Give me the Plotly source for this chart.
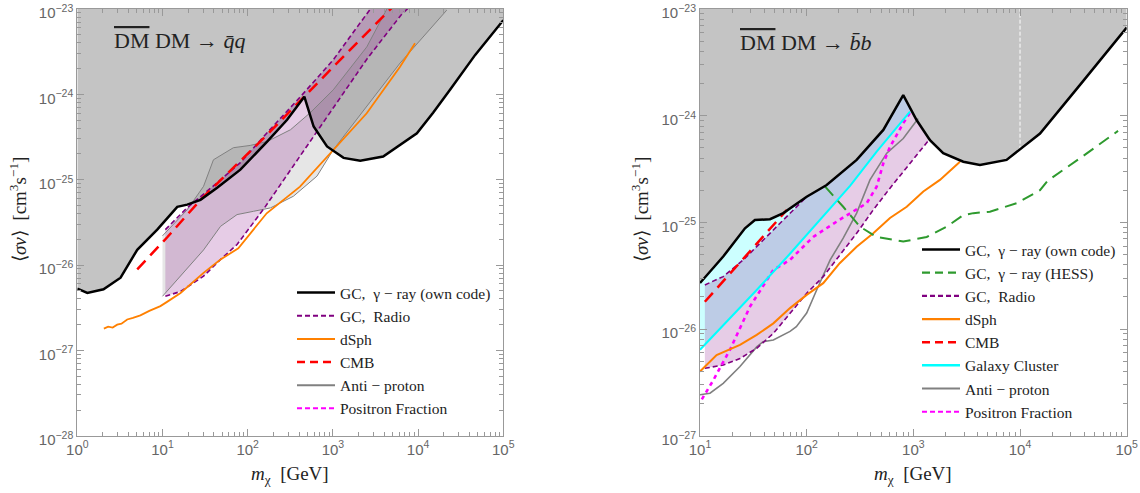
import numpy as np
import plotly.graph_objects as go

# ---------------- Left panel: DM DM -> q qbar ----------------
gcL_m = [1, 1.31, 2.03, 3.22, 5.05, 8.67, 12.4, 14.9, 19.5, 27.9, 43.8, 82, 169, 290, 462,
         594, 853, 1334, 2094, 3890, 9680, 15000, 23700, 46800, 1e5]
gcL_sv = [5.3e-27, 4.7e-27, 5.2e-27, 7.1e-27, 1.51e-26, 2.6e-26, 3.9e-26, 4.8e-26, 5.1e-26,
          5.8e-26, 8.05e-26, 1.31e-25, 2.8e-25, 5.03e-25, 9.4e-25, 4.2e-25, 2.45e-25, 1.8e-25,
          1.67e-25, 1.87e-25, 3.5e-25, 6.1e-25, 1.13e-24, 2.9e-24, 7.4e-24]

apL_up_m = [10, 13.4, 19.5, 30.3, 39.6, 68, 107, 169, 318, 543, 1010, 2500, 4300]
apL_up_sv = [2.2e-26, 2.98e-26, 4.45e-26, 8.35e-26, 1.71e-25, 2.37e-25, 2.52e-25, 2.8e-25,
             3.85e-25, 6.1e-25, 1.13e-24, 3.6e-24, 1.0e-23]
apL_lo_m = [10, 16.3, 30.3, 48, 75, 117, 185, 344, 650, 1010, 2500, 6150, 21700]
apL_lo_sv = [4.3e-27, 7.4e-27, 1.5e-26, 2.84e-26, 3.9e-26, 4.26e-26, 4.67e-26, 6.4e-26,
             1.1e-25, 2.24e-25, 7.2e-25, 2.33e-24, 9.7e-24]

radL_up_m = [10.8, 19.5, 43.8, 82, 169, 417, 1010, 2750]
radL_up_sv = [2.6e-26, 4.7e-26, 9.2e-26, 1.58e-25, 3.55e-25, 9.4e-25, 2.54e-24, 1.0e-23]
radL_lo_m = [10.8, 16.3, 30.3, 48, 75, 117, 158, 398, 1000, 2512, 6310, 9000]
radL_lo_sv = [4.3e-27, 4.9e-27, 7.4e-27, 1.16e-26, 1.74e-26, 3.1e-26, 4.7e-26, 1.8e-25,
              6.8e-25, 2.6e-24, 8.5e-24, 1.2e-23]

dsL_m = [2.05, 2.3, 2.6, 2.94, 3.3, 3.85, 4.5, 5.5, 7, 9.45, 11.3, 16.3, 30.3, 48, 77.6, 167,
         411, 1010, 2494, 6140, 9200]
dsL_sv = [1.8e-27, 1.9e-27, 1.85e-27, 2.0e-27, 2.05e-27, 2.3e-27, 2.4e-27, 2.57e-27, 2.9e-27,
          3.3e-27, 3.7e-27, 4.7e-27, 8.1e-27, 1.16e-26, 1.57e-26, 4.04e-26, 8.3e-26, 2.23e-25,
          6.0e-25, 2.1e-24, 3.96e-24]

cmbL_m = [5.05, 11.3, 27.9, 169, 1010, 5000]
cmbL_sv = [8.9e-27, 2.1e-26, 5.8e-26, 3.36e-25, 2.1e-24, 1.05e-23]

# ---------------- Right panel: DM DM -> b bbar ----------------
gcR_m = [10, 16.5, 26.4, 32.7, 45.3, 60.4, 100, 154, 294, 523, 804, 1072, 1432, 1905, 2940,
         4210, 7480, 10000, 15400, 38000, 1e5]
gcR_sv = [2.7e-26, 4.78e-26, 8.8e-26, 1.05e-25, 1.07e-25, 1.22e-25, 1.74e-25, 2.24e-25,
          3.85e-25, 7.35e-25, 1.56e-24, 9.1e-25, 5.9e-25, 4.45e-25, 3.7e-25, 3.45e-25,
          3.85e-25, 4.8e-25, 6.8e-25, 2.04e-24, 6.7e-24]

hess_m = [149, 220, 316, 453, 804, 1334, 2050, 2940, 3650, 5220, 9290, 15400, 18100, 38000, 83000]
hess_sv = [2.16e-25, 1.4e-25, 9.1e-26, 7.3e-26, 6.6e-26, 7.3e-26, 9.1e-26, 1.17e-25, 1.22e-25,
           1.26e-25, 1.51e-25, 2.0e-25, 2.45e-25, 4.1e-25, 7.2e-25]

radR_up_m = [11.1, 16.5, 25.5, 100]
radR_up_sv = [2.59e-26, 3.1e-26, 4.45e-26, 1.74e-25]
radR_lo_m = [11.1, 16.5, 23.7, 34, 48.7, 69.8, 100, 143, 204, 294, 421, 604, 1432]
radR_lo_sv = [4.28e-27, 4.6e-27, 5.3e-27, 6.6e-27, 9.1e-27, 1.41e-26, 2.16e-26, 3.1e-26,
              4.94e-26, 7.9e-26, 1.31e-25, 2.09e-25, 6.1e-25]

dsR_m = [10, 14.3, 23.7, 34, 48.7, 69.8, 100, 143, 204, 294, 421, 604, 867, 1240, 1775, 2735]
dsR_sv = [4.0e-27, 5.7e-27, 7.1e-27, 8.8e-27, 1.13e-26, 1.57e-26, 2.09e-26, 2.69e-26, 4.14e-26,
          5.9e-26, 7.9e-26, 1.1e-25, 1.4e-25, 1.95e-25, 2.5e-25, 3.7e-25]

cmbR_m = [11.1, 64.9]
cmbR_sv = [1.8e-26, 1.3e-25]

gclus_m = [10, 34, 70, 143, 255, 453, 930]
gclus_sv = [6.4e-27, 2.32e-26, 5.1e-26, 1.15e-25, 2.2e-25, 4.6e-25, 1.09e-24]

apR_m = [10, 12.4, 16.5, 23.7, 34, 39, 48.7, 69.8, 80, 100, 124, 166, 220, 294, 392, 563, 804, 1110]
apR_sv = [2.42e-27, 2.5e-27, 3.1e-27, 4.45e-27, 6.8e-27, 7.6e-27, 7.9e-27, 9.5e-27, 1.05e-26,
          1.41e-26, 2.32e-26, 4.45e-26, 7.1e-26, 1.22e-25, 2.5e-25, 4.45e-25, 6.1e-25, 9.4e-25]

pos_m = [10.4, 13.3, 19.1, 29.4, 48.7, 69.8, 115, 204, 365, 453, 523, 604, 804, 966]
pos_sv = [2.19e-27, 3.3e-27, 6.4e-27, 1.62e-26, 3.58e-26, 4.45e-26, 7.3e-26, 1.06e-25,
          1.51e-25, 2.16e-25, 3.58e-25, 5.1e-25, 8.5e-25, 1.13e-24]

# white dashed artefact at 10 TeV (right panel)
wl_m = [1e4, 1e4]
wl_sv = [4.8e-25, 1e-23]

# axis ticks
xL_ticks = [1, 10, 100, 1e3, 1e4, 1e5]
xL_text = ["10<sup>0</sup>", "10<sup>1</sup>", "10<sup>2</sup>", "10<sup>3</sup>", "10<sup>4</sup>", "10<sup>5</sup>"]
yL_ticks = [1e-28, 1e-27, 1e-26, 1e-25, 1e-24, 1e-23]
yL_text = ["10<sup>−28</sup>", "10<sup>−27</sup>", "10<sup>−26</sup>", "10<sup>−25</sup>", "10<sup>−24</sup>", "10<sup>−23</sup>"]
xR_ticks = [10, 100, 1e3, 1e4, 1e5]
xR_text = ["10<sup>1</sup>", "10<sup>2</sup>", "10<sup>3</sup>", "10<sup>4</sup>", "10<sup>5</sup>"]
yR_ticks = [1e-27, 1e-26, 1e-25, 1e-24, 1e-23]
yR_text = ["10<sup>−27</sup>", "10<sup>−26</sup>", "10<sup>−25</sup>", "10<sup>−24</sup>", "10<sup>−23</sup>"]

BLACK = "#000000"; PURPLE = "#800080"; ORANGE = "#ff8000"; RED = "#ff0000"
GRAY = "#808080"; MAGENTA = "#ff00ff"; CYAN = "#00ffff"; GREEN = "#2e9a2e"
FILLGRAY = "#c4c4c4"

fig = go.Figure()


def poly(xu, yu, xl, yl):
    return list(xu) + list(xl)[::-1], list(yu) + list(yl)[::-1]


def add_fill(x, y, color, xa, ya):
    fig.add_trace(go.Scatter(x=x, y=y, fill="toself", fillcolor=color, mode="lines",
                             line=dict(width=0, color=color), hoverinfo="skip",
                             showlegend=False, xaxis=xa, yaxis=ya))


def add_line(x, y, color, width, dash, xa, ya):
    fig.add_trace(go.Scatter(x=x, y=y, mode="lines", line=dict(color=color, width=width, dash=dash),
                             showlegend=False, hoverinfo="skip", xaxis=xa, yaxis=ya))


def add_leg(name, color, width, dash, legend):
    fig.add_trace(go.Scatter(x=[None], y=[None], mode="lines", name=name,
                             line=dict(color=color, width=width, dash=dash),
                             legend=legend, xaxis="x", yaxis="y"))


TOP = 1e-21

# ---- left panel ----
add_fill([gcL_m[0]] + gcL_m + [gcL_m[-1]], [TOP] + gcL_sv + [TOP], FILLGRAY, "x", "y")
px, py = poly(apL_up_m + [apL_up_m[-1] * 1.5], apL_up_sv + [TOP], apL_lo_m + [apL_lo_m[-1] * 1.5], apL_lo_sv + [TOP])
add_fill(px, py, "rgba(128,128,128,0.2)", "x", "y")
px, py = poly(radL_up_m + [radL_up_m[-1] * 1.5], radL_up_sv + [TOP], radL_lo_m + [radL_lo_m[-1] * 1.5], radL_lo_sv + [TOP])
add_fill(px, py, "rgba(128,0,128,0.2)", "x", "y")
add_line(apL_up_m, apL_up_sv, GRAY, 1, "solid", "x", "y")
add_line(apL_lo_m, apL_lo_sv, GRAY, 1, "solid", "x", "y")
add_line(radL_up_m, radL_up_sv, PURPLE, 1.6, "5px,3px", "x", "y")
add_line(radL_lo_m, radL_lo_sv, PURPLE, 1.6, "5px,3px", "x", "y")
add_line(dsL_m, dsL_sv, ORANGE, 1.8, "solid", "x", "y")
add_line(cmbL_m, cmbL_sv, RED, 2.5, "12px,7px", "x", "y")
add_line(gcL_m, gcL_sv, BLACK, 2.5, "solid", "x", "y")

# ---- right panel ----
lm = np.log10(gcR_m); ls = np.log10(gcR_sv)
end_m = gclus_m[-1]
bk_end = 10 ** np.interp(np.log10(end_m), lm, ls)
bk_x = [m for m in gcR_m if m < end_m] + [end_m]
bk_y = [s for m, s in zip(gcR_m, gcR_sv) if m < end_m] + [bk_end]
px, py = poly(gclus_m, gclus_sv, bk_x, bk_y)
add_fill(px, py, "rgba(0,255,255,0.2)", "x2", "y2")
lo_end = radR_lo_m[-1]
up_x = radR_up_m + [m for m in gcR_m if radR_up_m[-1] < m < lo_end]
up_y = radR_up_sv + [s for m, s in zip(gcR_m, gcR_sv) if radR_up_m[-1] < m < lo_end]
px, py = poly(up_x, up_y, radR_lo_m, radR_lo_sv)
add_fill(px, py, "rgba(128,0,128,0.2)", "x2", "y2")
add_fill([gcR_m[0]] + gcR_m + [gcR_m[-1]], [TOP] + gcR_sv + [TOP], FILLGRAY, "x2", "y2")
add_line(wl_m, wl_sv, "#ffffff", 1, "4px,2px", "x2", "y2")
add_line(apR_m, apR_sv, GRAY, 1.6, "solid", "x2", "y2")
add_line(radR_up_m, radR_up_sv, PURPLE, 1.6, "5px,3px", "x2", "y2")
add_line(radR_lo_m, radR_lo_sv, PURPLE, 1.6, "5px,3px", "x2", "y2")
add_line(pos_m, pos_sv, MAGENTA, 2.6, "4px,4px", "x2", "y2")
add_line(gclus_m, gclus_sv, CYAN, 2, "solid", "x2", "y2")
add_line(dsR_m, dsR_sv, ORANGE, 2, "solid", "x2", "y2")
add_line(cmbR_m, cmbR_sv, RED, 2.5, "12px,7px", "x2", "y2")
add_line(hess_m, hess_sv, GREEN, 2, "12px,7px", "x2", "y2")
add_line(gcR_m, gcR_sv, BLACK, 2.5, "solid", "x2", "y2")

# ---- legends ----
add_leg("GC,  γ − ray (own code)", BLACK, 2.5, "solid", "legend")
add_leg("GC,  Radio", PURPLE, 2.2, "5px,3px", "legend")
add_leg("dSph", ORANGE, 2, "solid", "legend")
add_leg("CMB", RED, 2.5, "8px,5px", "legend")
add_leg("Anti − proton", GRAY, 2, "solid", "legend")
add_leg("Positron Fraction", MAGENTA, 2, "5px,3px", "legend")

add_leg("GC,  γ − ray (own code)", BLACK, 2.5, "solid", "legend2")
add_leg("GC,  γ − ray (HESS)", GREEN, 2.2, "8px,5px", "legend2")
add_leg("GC,  Radio", PURPLE, 2.2, "5px,3px", "legend2")
add_leg("dSph", ORANGE, 2.2, "solid", "legend2")
add_leg("CMB", RED, 2.5, "8px,5px", "legend2")
add_leg("Galaxy Cluster", CYAN, 2.5, "solid", "legend2")
add_leg("Anti − proton", GRAY, 2, "solid", "legend2")
add_leg("Positron Fraction", MAGENTA, 2, "5px,3px", "legend2")

SERIF = "Liberation Serif"
SANS = "Liberation Sans"
AXC = "#999999"
EPS = 1e-4


def minor_vals(lo, hi):
    vals = []
    for e in range(lo, hi):
        for k in range(2, 10):
            vals.append(k * 10.0 ** e)
    return vals


def axis(dom, rng, tv, tt, anchor, mv, shift=0):
    return dict(type="log", range=[rng[0] - EPS, rng[1] + EPS], domain=dom, anchor=anchor,
                showline=True, linecolor=AXC, ticklabeloverflow="allow", ticklabelshift=shift,
                linewidth=1, mirror="allticks", ticks="inside", ticklen=7, tickcolor=AXC,
                tickvals=tv, ticktext=tt, showgrid=False, zeroline=False, automargin=False,
                tickfont=dict(family=SANS, size=15, color="#666666"),
                minor=dict(ticks="inside", ticklen=4, tickcolor=AXC, tickvals=mv, showgrid=False))


YD = [1 - 435.7 / 493, 1 - 9 / 493]
fig.update_layout(
    template="none",
    width=1140, height=493, margin=dict(l=0, r=0, t=0, b=0, autoexpand=False),
    paper_bgcolor="white", plot_bgcolor="white",
    xaxis=axis([77.3 / 1140, 503.3 / 1140], [0, 5], xL_ticks, xL_text, "y", minor_vals(0, 5)),
    yaxis=axis(YD, [-28, -23], yL_ticks, yL_text, "x", minor_vals(-28, -23), shift=4),
    xaxis2=axis([700 / 1140, 1126.7 / 1140], [1, 5], xR_ticks, xR_text, "y2", minor_vals(1, 5)),
    yaxis2=axis(YD, [-27, -23], yR_ticks, yR_text, "x2", minor_vals(-27, -23), shift=4),
    legend=dict(x=292 / 1140, y=1 - 276 / 493, xanchor="left", yanchor="top", itemwidth=38,
                bgcolor="rgba(0,0,0,0)", font=dict(family=SERIF, size=15.5, color="#222222")),
    legend2=dict(x=917 / 1140, y=1 - 233 / 493, xanchor="left", yanchor="top", itemwidth=38,
                 bgcolor="rgba(0,0,0,0)", font=dict(family=SERIF, size=15.5, color="#222222")),
    showlegend=True,
)

ann_font = dict(family=SERIF, size=19, color="#222222")
title_font = dict(family=SERIF, size=22, color="#222222")
fig.add_annotation(x=112 / 1140, y=1 - 40 / 493, xref="paper", yref="paper", xanchor="left", yanchor="middle",
                   text='<span style="text-decoration:overline">DM</span> DM → <i>q̄q</i>',
                   showarrow=False, font=title_font)
fig.add_annotation(x=738 / 1140, y=1 - 42 / 493, xref="paper", yref="paper", xanchor="left", yanchor="middle",
                   text='<span style="text-decoration:overline">DM</span> DM → <i>b̄b</i>',
                   showarrow=False, font=title_font)
for xc in [290, 913]:
    fig.add_annotation(x=xc / 1140, y=1 - 475 / 493, xref="paper", yref="paper", xanchor="center",
                       yanchor="middle", text="<i>m</i><sub>χ</sub>  [GeV]", showarrow=False, font=ann_font)
for xc in [18, 640]:
    fig.add_annotation(x=xc / 1140, y=1 - 210 / 493, xref="paper", yref="paper", xanchor="center",
                       yanchor="middle", textangle=-90,
                       text="⟨<i>σv</i>⟩  [cm<sup>3</sup>s<sup>−1</sup>]", showarrow=False, font=ann_font)

fig.write_html("out.html", config={"displayModeBar": False},
               post_script="document.body.style.margin='0px';document.body.style.padding='0px';document.body.style.overflow='hidden';")
